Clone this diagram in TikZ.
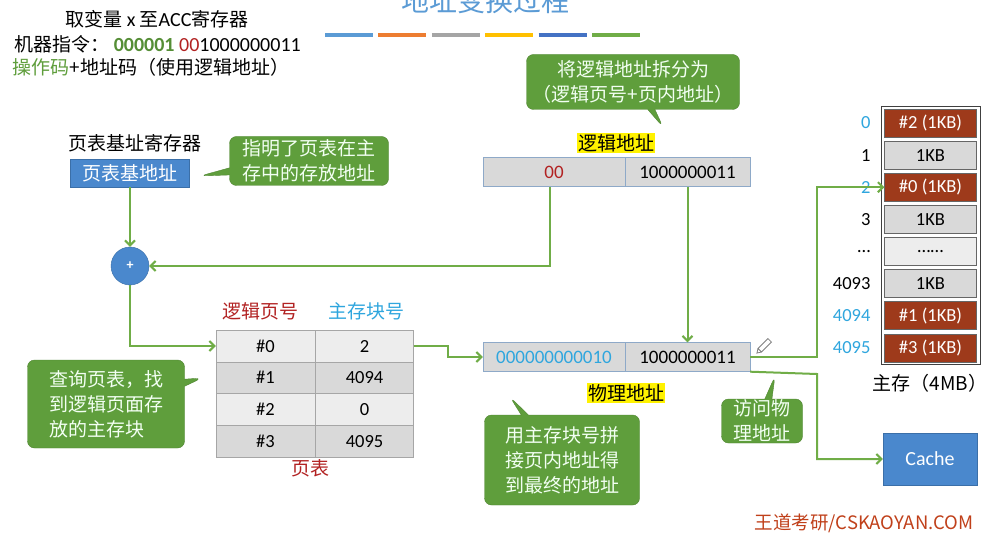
\documentclass[tikz,border=0pt]{standalone}
\usepackage{fontspec}
\setmainfont{Carlito}
\newfontfamily\cjk{Noto Sans CJK SC}
\usepackage{tikz}
\usetikzlibrary{arrows.meta,shapes.callouts,positioning}
\definecolor{arrowgreen}{HTML}{70AD47}
\definecolor{notegreen}{HTML}{5F9E3C}
\definecolor{noteedge}{HTML}{4F8531}
\definecolor{boxblue}{HTML}{4A88CD}
\definecolor{boxedge}{HTML}{3B6FA8}
\definecolor{titleblue}{HTML}{5B9BD5}
\definecolor{barorange}{HTML}{ED7D31}
\definecolor{bargray}{HTML}{A5A5A5}
\definecolor{bargold}{HTML}{FFC000}
\definecolor{bardeep}{HTML}{4472C4}
\definecolor{cellgray}{HTML}{D9D9D9}
\definecolor{celllight}{HTML}{EDEDED}
\definecolor{celledge}{HTML}{A6A6A6}
\definecolor{addredge}{HTML}{8EA9C8}
\definecolor{blockred}{HTML}{9E3A1B}
\definecolor{darkred}{HTML}{B22222}
\definecolor{numblue}{HTML}{2FA6DE}
\definecolor{brandred}{HTML}{C0401A}
\tikzstyle{zh}=[font=\cjk\fontsize{19}{22}\selectfont]
\tikzstyle{num}=[font=\fontsize{19}{22}\selectfont]
\tikzstyle{bluebox}=[draw=boxedge, fill=boxblue, text=white, inner sep=0pt]
\tikzstyle{note}=[rectangle callout, draw=noteedge, fill=notegreen, text=white!95!green,
  rounded corners=7pt, align=left, inner sep=0pt, zh, font=\cjk\fontsize{19}{25}\selectfont]
\tikzstyle{addrcell}=[draw=addredge, fill=cellgray, minimum height=29pt, inner sep=0pt, num]
\tikzstyle{tabcell}=[draw=celledge, minimum height=31.7pt, inner sep=0pt, num, font=\fontsize{18.5}{22}\selectfont]
\tikzstyle{memcell}=[minimum width=92pt, minimum height=28pt, inner sep=0pt, font=\fontsize{18.5}{20}\selectfont]
\tikzstyle{link}=[draw=arrowgreen, line width=2pt, -{Straight Barb[length=5pt,width=10pt]}]
\tikzstyle{highlight}=[fill=yellow, inner sep=1pt]

\begin{document}
\begin{tikzpicture}[x=1pt, y=-1pt]
    \clip (0,0) rectangle (998,540);
    \useasboundingbox (0,0) rectangle (998,540);
    \fill[white] (0,0) rectangle (998,540);

    % title and coloured bars
    \node[font=\cjk\fontsize{28}{30}\selectfont, text=titleblue] (title) at (485,1) {地址变换过程};
    \foreach \c [count=\i] in {titleblue, barorange, bargray, bargold, bardeep, arrowgreen}
        \draw[\c, line width=4pt] (325+53.4*\i-53.4,35) -- +(48,0);

    % instruction text
    \node[zh] (line1) at (157,19) {取变量 {\fontspec{Carlito}\fontsize{20}{22}\selectfont x} 至{\fontspec{Carlito}\fontsize{20}{22}\selectfont ACC}寄存器};
    \node[zh, anchor=west] (line2) at (11,44) {机器指令：\ {\fontspec{Carlito}\fontsize{20}{22}\selectfont\color{notegreen!90!black}\textbf{000001} \color{darkred}00\color{black}1000000011}};
    \node[zh, anchor=west] (line3) at (9,67) {\color{notegreen}操作码\color{black}+地址码（使用逻辑地址）};

    % page table base register
    \node[zh] (ptrlabel) at (135,143) {页表基址寄存器};
    \node[bluebox, zh, minimum width=119pt, minimum height=28pt] (ptbase) at (130,173) {页表基地址};
    \node[note, minimum width=159pt, minimum height=49pt, callout absolute pointer={(200,176)}] (note1) at (309,161) {指明了页表在主\\存中的存放地址};

    % adder
    \node[circle, bluebox, minimum size=38pt, font=\bfseries\fontsize{14}{14}\selectfont] (adder) at (130,266) {+};

    % logical address
    \node[zh, highlight] (laddrlabel) at (616,143) {逻辑地址};
    \node[addrcell, minimum width=142pt, text=darkred] (lpage) at (554,172) {00};
    \node[addrcell, minimum width=125pt] (loffset) at (687.5,172) {1000000011};
    \node[note, minimum width=213pt, minimum height=55pt, align=center, callout absolute pointer={(663,127)}] (note2) at (633,82) {将逻辑地址拆分为\\（逻辑页号+页内地址）};

    % page table
    \node[zh, text=darkred] (colpage) at (260,311) {逻辑页号};
    \node[zh, text=numblue] (colblock) at (366,311) {主存块号};
    \foreach \p/\b [count=\i from 0] in {\#0/2, \#1/4094, \#2/0, \#3/4095} {
        \pgfmathsetmacro\shade{mod(\i,2)==0 ? "celllight" : "cellgray"}
        \node[tabcell, fill=\shade, minimum width=99pt] (tp\i) at (265.5,346+31.7*\i) {\p};
        \node[tabcell, fill=\shade, minimum width=98pt] (tb\i) at (364.5,346+31.7*\i) {\b};
    }
    \node[zh, text=darkred] (ptlabel) at (310,468) {页表};
    \node[note, minimum width=157pt, minimum height=88pt, callout absolute pointer={(202,378)}] (note3) at (106,404) {查询页表，找\\到逻辑页面存\\放的主存块};

    % physical address
    \node[addrcell, minimum width=142pt, text=numblue] (pblock) at (554,357) {000000000010};
    \node[addrcell, minimum width=125pt] (poffset) at (687.5,357) {1000000011};
    \node[zh, highlight] (paddrlabel) at (626,393) {物理地址};
    \node[note, minimum width=155pt, minimum height=90pt, callout absolute pointer={(510,397)}] (note4) at (562,460) {用主存块号拼\\接页内地址得\\到最终的地址};
    \node[note, minimum width=81pt, minimum height=44pt, callout absolute pointer={(775,376)}] (note5) at (762,421) {访问物\\理地址};

    % pencil mark
    \draw[gray, line width=0.8pt, rotate around={45:(764,346)}] (758,343.5) rectangle (772,348.5) (758,343.5) -- (754,346) -- (758,348.5);

    % main memory
    \draw[black!75, line width=1pt, fill=white] (881,107) rectangle (980,364);
    \foreach \lab/\txt/\fc/\tc/\lc [count=\i from 0] in {
        0/\#2 (1KB)/blockred/white/numblue, 1/1KB/cellgray/black/black,
        2/\#0 (1KB)/blockred/white/numblue, 3/1KB/cellgray/black/black,
        \ldots/\ldots\ldots/celllight/black/black, 4093/1KB/cellgray/black/black,
        4094/\#1 (1KB)/blockred/white/numblue, 4095/\#3 (1KB)/blockred/white/numblue} {
        \node[memcell, fill=\fc, text=\tc, draw=black!60] (m\i) at (930.5,123+32.1*\i) {\txt};
        \node[anchor=east, text=\lc, font=\fontsize{18.5}{20}\selectfont] (ml\i) at (874,123+32.1*\i) {\lab};
    }
    \node[zh] (memlabel) at (930,383) {主存（4MB）};

    % cache
    \node[bluebox, minimum width=94pt, minimum height=52pt, font=\fontsize{20}{22}\selectfont] (cache) at (930,459) {Cache};

    % footer
    \node[text=brandred, font=\cjk\fontsize{18.5}{20}\selectfont, anchor=east] (brand) at (977,523) {王道考研/CSKAOYAN.COM};

    % connectors
    \coordinate (tableturn) at (448,346);
    \coordinate (memturn) at (817,357);
    \coordinate (cacheturn) at (817,374);
    \path[link] (ptbase) -- (adder);
    \path[link] ([xshift=-4pt]lpage.south) |- (adder.east);
    \path[link] (loffset) -- (poffset);
    \path[link] (adder) |- (tp0.west);
    \path[link] (tb0.east) -- (tableturn) |- (pblock.west);
    \path[link] (poffset.east) -- (memturn) |- (m2.west);
    \path[link] (poffset.south east) -- (cacheturn) |- (cache.west);
\end{tikzpicture}
\end{document}
